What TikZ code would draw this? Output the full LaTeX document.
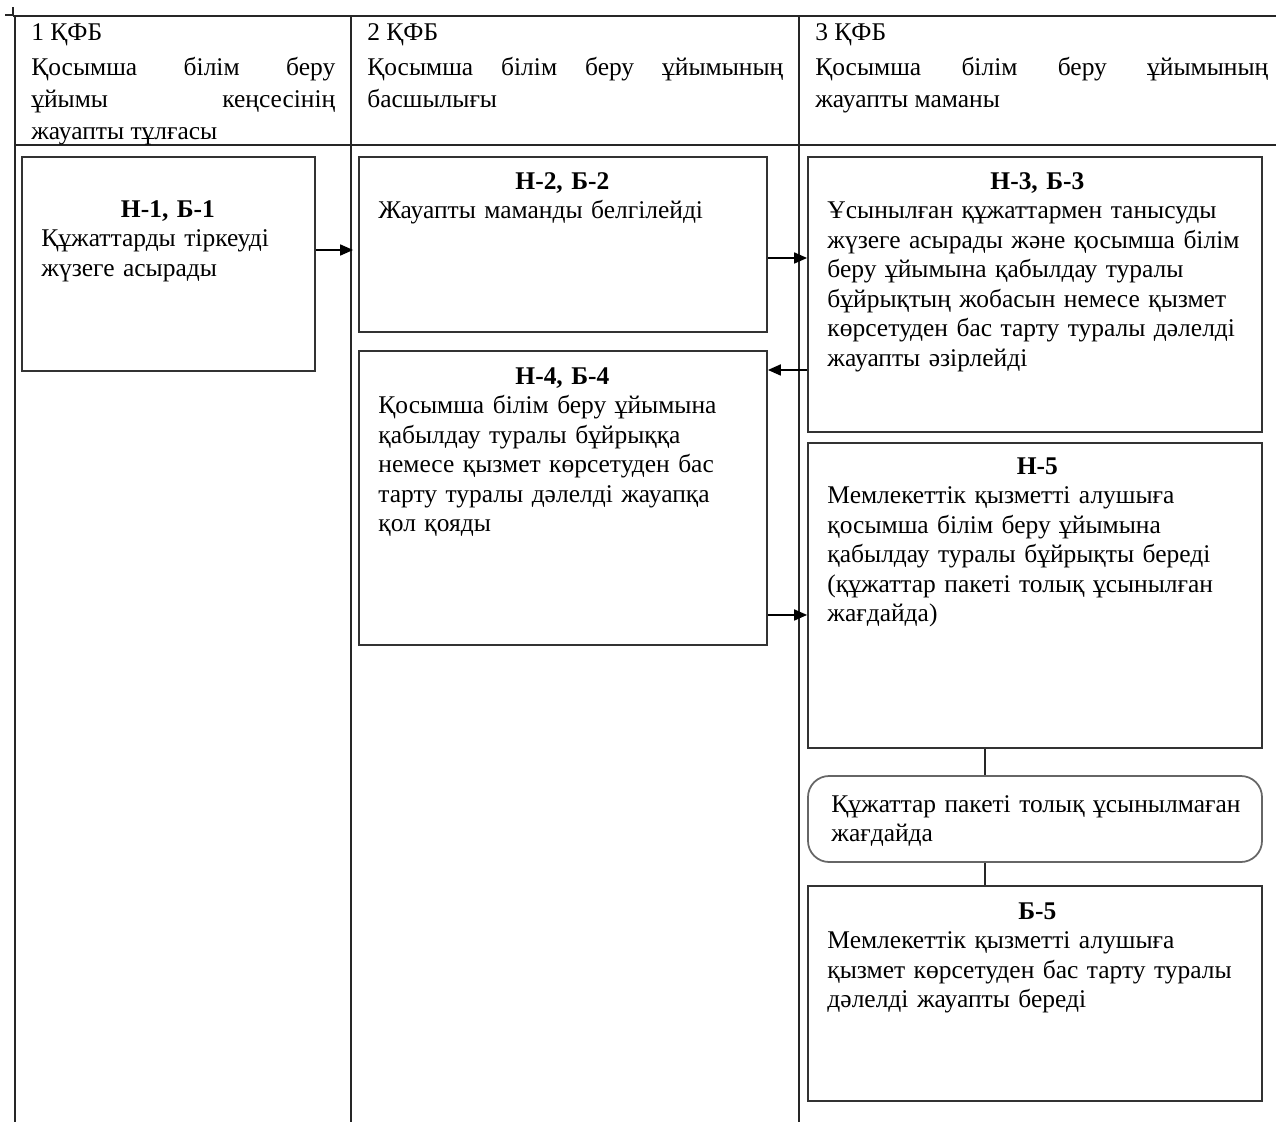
\documentclass[tikz,border=0pt]{standalone}
\usepackage{fontspec}
\setmainfont{Liberation Serif}
\usetikzlibrary{arrows.meta,fit}

\begin{document}
\begin{tikzpicture}[x=0.02cm, y=-0.02cm,
    every node/.style={font=\fontsize{14.5}{16.8}\selectfont},
    frameline/.style={line width=1pt, black!85},
    box/.style={draw=black!80, line width=1pt, inner sep=0pt},
    condbox/.style={box, rounded corners=12pt, draw=black!60},
    link/.style={line width=1pt, black!85},
    txt/.style={anchor=north west, inner sep=0pt, align=left},
    hdr/.style={anchor=north west, inner sep=0pt, align=justify, font=\fontsize{14.5}{18.2}\selectfont},
    arr/.style={-{Triangle[length=0.26cm, width=0.22cm]}, line width=1pt}
]
\useasboundingbox (0,0) rectangle (1276,1122);

% table frame
\draw[frameline] (5,15) -- (13,15) -- (13,7);
\draw[frameline] (13,16) -- (1276,16);
\draw[frameline] (15,145) -- (1276,145);
\foreach \x in {15,351,799}
  \draw[frameline] (\x,16) -- (\x,1122);

% column headers
\node[hdr] (hd1) at (31,23) {1 ҚФБ};
\node[hdr, text width=6.08cm] (hd1txt) at (31,57) {Қосымша білім беру\linebreak ұйымы кеңсесінің\linebreak жауапты тұлғасы};
\node[hdr] (hd2) at (367,23) {2 ҚФБ};
\node[hdr, text width=8.32cm] (hd2txt) at (367,57) {Қосымша білім беру ұйымының\linebreak басшылығы};
\node[hdr] (hd3) at (815,23) {3 ҚФБ};
\node[hdr, text width=9.06cm] (hd3txt) at (815,57) {Қосымша білім беру ұйымының\linebreak жауапты маманы};

% boxes
\node[box, fit={(22,157) (315,371)}] (b1) {};
\node[box, fit={(359,157) (767,332)}] (b2) {};
\node[box, fit={(808,157) (1262,432)}] (b3) {};
\node[box, fit={(359,351) (767,645)}] (b4) {};
\node[box, fit={(808,443) (1262,748)}] (b5) {};
\node[condbox, fit={(808,776) (1262,862)}] (cond) {};
\node[box, fit={(808,886) (1262,1101)}] (b6) {};

% box texts
\node[txt, text width=5.06cm] (b1txt) at ([xshift=0.4cm, yshift=-0.88cm]b1.north west)
  {{\centering\textbf{Н-1, Б-1}\par}Құжаттарды тіркеуді\\ жүзеге асырады};
\node[txt, text width=7.36cm] (b2txt) at ([xshift=0.4cm, yshift=-0.32cm]b2.north west)
  {{\centering\textbf{Н-2, Б-2}\par}Жауапты маманды белгілейді};
\node[txt, text width=8.4cm] (b3txt) at ([xshift=0.4cm, yshift=-0.32cm]b3.north west)
  {{\centering\textbf{Н-3, Б-3}\par}Ұсынылған құжаттармен танысуды\\ жүзеге асырады және қосымша білім\\ беру ұйымына қабылдау туралы\\ бұйрықтың жобасын немесе қызмет\\ көрсетуден бас тарту туралы дәлелді\\ жауапты әзірлейді};
\node[txt, text width=7.36cm] (b4txt) at ([xshift=0.4cm, yshift=-0.34cm]b4.north west)
  {{\centering\textbf{Н-4, Б-4}\par}Қосымша білім беру ұйымына\\ қабылдау туралы бұйрыққа\\ немесе қызмет көрсетуден бас\\ тарту туралы дәлелді жауапқа\\ қол қояды};
\node[txt, text width=8.4cm] (b5txt) at ([xshift=0.4cm, yshift=-0.30cm]b5.north west)
  {{\centering\textbf{Н-5}\par}Мемлекеттік қызметті алушыға\\ қосымша білім беру ұйымына\\ қабылдау туралы бұйрықты береді\\ (құжаттар пакеті толық ұсынылған\\ жағдайда)};
\node[txt, text width=8.6cm] (condtxt) at ([xshift=0.48cm, yshift=-0.40cm]cond.north west)
  {Құжаттар пакеті толық ұсынылмаған\\ жағдайда};
\node[txt, text width=8.4cm] (b6txt) at ([xshift=0.4cm, yshift=-0.34cm]b6.north west)
  {{\centering\textbf{Б-5}\par}Мемлекеттік қызметті алушыға\\ қызмет көрсетуден бас тарту туралы\\ дәлелді жауапты береді};

% connectors
\draw[arr, shorten >=0.1cm] ([yshift=0.28cm]b1.east) -- ([yshift=0.28cm]b1.east -| b2.west);
\draw[arr] ([yshift=-0.27cm]b2.east) -- ([yshift=-0.27cm]b2.east -| b3.west);
\draw[arr] ([yshift=-1.51cm]b3.west) -- ([yshift=-1.51cm]b3.west -| b4.east);
\draw[arr] ([yshift=-2.34cm]b4.east) -- ([yshift=-2.34cm]b4.east -| b5.west);
\draw[link] ([xshift=-1cm]b5.south) -- ([xshift=-1cm]b5.south |- cond.north);
\draw[link] ([xshift=-1cm]cond.south) -- ([xshift=-1cm]cond.south |- b6.north);
\end{tikzpicture}
\end{document}
